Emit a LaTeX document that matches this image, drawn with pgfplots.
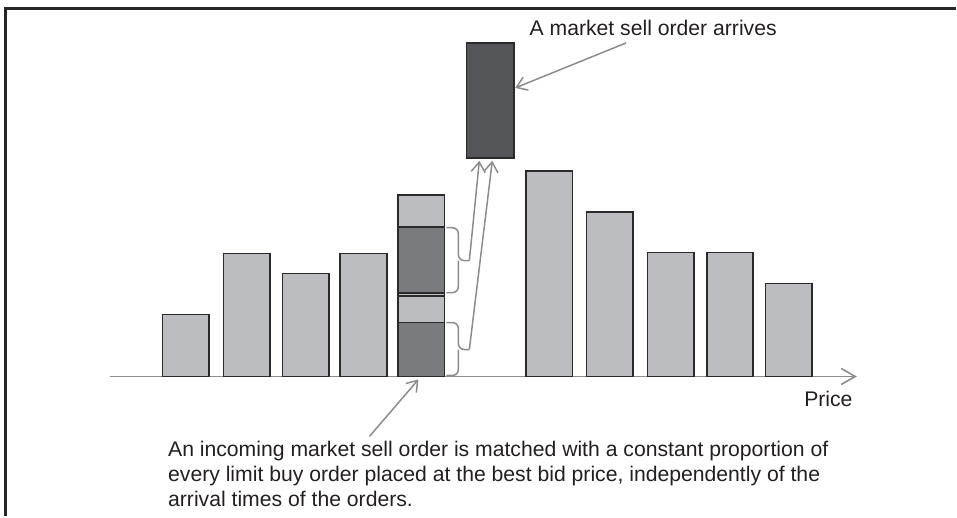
\documentclass[border=0pt]{standalone}
\usepackage{pgfplots}
\pgfplotsset{compat=1.18}
\usetikzlibrary{arrows.meta}
\usepackage{fontspec}
\setmainfont{Liberation Sans}
\definecolor{barlight}{RGB}{188,189,192}
\definecolor{bardark}{RGB}{122,123,126}
\definecolor{mktbar}{RGB}{84,85,88}
\definecolor{edge}{RGB}{42,42,42}
\definecolor{arrowgray}{RGB}{140,140,140}
\definecolor{txt}{RGB}{35,31,32}

\begin{document}
\begin{tikzpicture}[
  lbl/.style={anchor=base west, inner sep=0pt, text=txt, font=\fontsize{10.6}{12.5}\selectfont},
  arr/.style={arrowgray, line width=0.75pt, -{Straight Barb[length=5pt,width=7pt]}},
]
\begin{axis}[
  x=0.5pt, y=0.5pt,
  xmin=0, xmax=957, ymin=-140, ymax=377,
  hide axis, clip=false,
  bars/.style={ybar, bar width=46.5, bar shift=0pt, draw=edge, line width=0.8pt},
]
% bounding box and frame
\path (axis cs:0,-140) rectangle (axis cs:957,377);
\draw[black!85, line width=1.35pt] (axis cs:957,368.5) -- (axis cs:5.5,368.5) -- (axis cs:5.5,-140);

% price axis
\draw[arrowgray, line width=0.8pt, -{Straight Barb[length=7pt,width=8pt]}] (axis cs:110,0) -- (axis cs:858,0);

% limit order book, depth at each price level
\addplot[bars, fill=barlight] coordinates {
  (186,62) (247,123) (306,103) (364,123)
  (550,205.5) (610.5,165) (671.5,124) (731,124) (790,93)
};
% best bid queue, segments drawn from the top down
\addplot[bars, fill=barlight] coordinates {(422,182)};
\addplot[bars, fill=bardark] coordinates {(422,149.5)};
\addplot[bars, fill=barlight] coordinates {(422,83.5)};
\addplot[bars, fill=barlight] coordinates {(422,80.5)};
\addplot[bars, fill=bardark] coordinates {(422,54)};

% incoming market sell order
\addplot[fill=mktbar, draw=edge, line width=0.8pt, mark=none] coordinates {
  (467,218.7) (514.5,218.7) (514.5,333.7) (467,333.7)
} -- cycle;

% braces on the matched parts
\draw[arrowgray, line width=0.75pt, rounded corners=3pt]
  (axis cs:447,149) -- (axis cs:459,149) -- (axis cs:459,116) -- (axis cs:470,116)
  (axis cs:459,116) -- (axis cs:459,84) -- (axis cs:447,84);
\draw[arrowgray, line width=0.75pt, rounded corners=3pt]
  (axis cs:447,54) -- (axis cs:459,54) -- (axis cs:459,27) -- (axis cs:470,27)
  (axis cs:459,27) -- (axis cs:459,1) -- (axis cs:447,1);
\draw[arr] (axis cs:470,116) -- (axis cs:480,216);
\draw[arr] (axis cs:470,27) -- (axis cs:493,216);

% annotations
\draw[arr] (axis cs:627,334) -- (axis cs:516,289);
\node[lbl] at (axis cs:530,341.5) {A market sell order arrives};
\node[lbl] at (axis cs:805,-29.7) {Price};
\draw[arr] (axis cs:370,-60) -- (axis cs:419,-3);
\node[lbl] at (axis cs:168,-80) {An incoming market sell order is matched with a constant proportion of};
\node[lbl] at (axis cs:168,-105) {every limit buy order placed at the best bid price, independently of the};
\node[lbl] at (axis cs:168,-130) {arrival times of the orders.};
\end{axis}
\end{tikzpicture}
\end{document}
